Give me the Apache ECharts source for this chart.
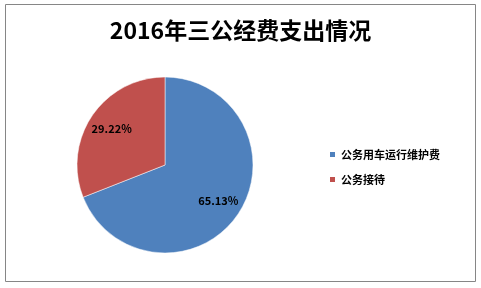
<!DOCTYPE html>
<html><head><meta charset="utf-8">
<script src="https://cdn.jsdelivr.net/npm/echarts@6/dist/echarts.min.js"></script>
<style>html,body{margin:0;padding:0;background:#fff}#c{width:481px;height:288px}</style>
</head><body><div id="c"></div>
<script>
const titleText = '2016年三公经费支出情况';
const categories = ['公务用车运行维护费', '公务接待'];
const values = [65.13, 29.22];
const colors = ['#4F81BD', '#C0504D'];

const data = categories.map((n, i) => ({ name: n, value: values[i] }));
const font = '"Noto Sans CJK SC", "DejaVu Sans", sans-serif';
const chart = echarts.init(document.getElementById('c'), null, { renderer: 'canvas' });
chart.setOption({
  animation: false,
  color: colors,
  title: {
    text: titleText, left: 'center', top: 14,
    textStyle: { fontFamily: font, fontSize: 23, fontWeight: 'bold', color: '#000' }
  },
  graphic: [{
    type: 'rect', silent: true, z: -1,
    shape: { x: 5.5, y: 4.5, width: 470, height: 277 },
    style: { fill: 'none', stroke: '#868686', lineWidth: 1 }
  }],
  legend: {
    orient: 'vertical', left: 323, top: 144,
    itemWidth: 7, itemHeight: 7, itemGap: 14,
    icon: 'rect',
    data: categories,
    textStyle: { fontFamily: font, fontSize: 11, fontWeight: 'bold', color: '#000' }
  },
  series: [{
    type: 'pie', center: [165, 165], radius: [0, 88],
    startAngle: 90, clockwise: true,
    itemStyle: { borderColor: '#fff', borderWidth: 0.5 },
    label: { show: false }, labelLine: { show: false },
    emphasis: { disabled: true },
    data: data
  }, {
    type: 'pie', center: [165, 165], radius: [0, 123],
    startAngle: 90, clockwise: true, silent: true,
    itemStyle: { opacity: 0 },
    label: {
      show: true, position: 'inside',
      formatter: p => p.value.toFixed(2) + '%',
      fontFamily: font, fontSize: 11, fontWeight: 'bold', color: '#000',
      opacity: 1
    },
    labelLine: { show: false },
    emphasis: { disabled: true },
    data: data
  }]
});
</script></body></html>
